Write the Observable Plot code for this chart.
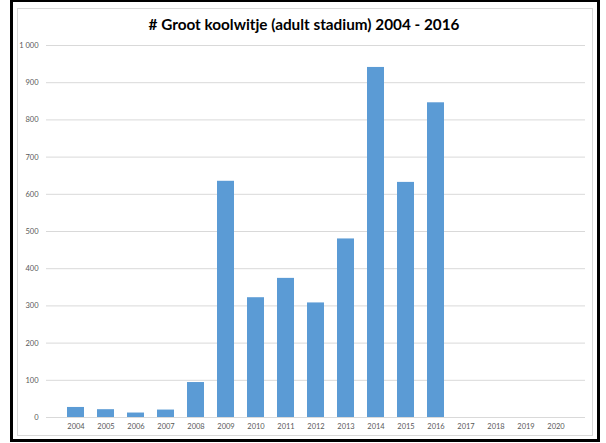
<!DOCTYPE html>
<html>
<head>
<meta charset="utf-8">
<script src="https://cdn.jsdelivr.net/npm/d3@7"></script>
<script src="https://cdn.jsdelivr.net/npm/@observablehq/plot@0.6"></script>
<style>
  html, body { margin: 0; padding: 0; background: #fff; }
  body { width: 606px; height: 443px; position: relative; overflow: hidden; font-family: Lato, "Open Sans", sans-serif; }
  #frame { position: absolute; left: 10px; top: 0; width: 590px; height: 442px; border: 3px solid #000; border-top-width: 2px; box-sizing: border-box; }
  #inner { position: absolute; left: 17px; top: 8px; width: 576px; height: 428px; border: 1px solid #d9d9d9; box-sizing: border-box; }
  #title { position: absolute; left: 0; width: 608px; top: 15px; text-align: center; font-weight: bold; font-size: 15.3px; color: #000; font-family: Lato, sans-serif; }
  #chart { position: absolute; left: 0; top: 35px; }
</style>
</head>
<body>
<div id="frame"></div>
<div id="inner"></div>
<div id="title"># Groot koolwitje (adult stadium) 2004 - 2016</div>
<div id="chart"></div>
<script>
const years = ["2004","2005","2006","2007","2008","2009","2010","2011","2012","2013","2014","2015","2016","2017","2018","2019","2020"];
const counts = [27, 21, 12, 20, 94, 635, 322, 374, 308, 480, 941, 632, 846, null, null, null, null];
const yTicks = [0, 100, 200, 300, 400, 500, 600, 700, 800, 900, 1000];

const data = years.map((y, i) => ({year: y, count: counts[i]}));
const fmt = d => d >= 1000 ? d3.format(",")(d).replace(/,/g, " ") : String(d);

const chart = Plot.plot({
  width: 606,
  height: 400,
  marginTop: 10,
  marginBottom: 18,
  marginLeft: 46,
  marginRight: 21,
  style: { fontFamily: "Lato, sans-serif", fontSize: "7.5px", color: "#595959", background: "transparent" },
  x: { domain: years, padding: 0.44, label: null, tickSize: 0, tickPadding: 6 },
  y: { domain: [0, 1000], label: null, ticks: yTicks, tickSize: 0, tickPadding: 8, tickFormat: fmt },
  marks: [
    Plot.gridY(yTicks, { stroke: "#d9d9d9", strokeOpacity: 1, strokeWidth: 1 }),
    Plot.barY(data.filter(d => d.count != null), { x: "year", y: "count", fill: "#5B9BD5" }),
    Plot.axisX({ tickSize: 0, tickPadding: 6, fill: "#595959" }),
    Plot.axisY({ ticks: yTicks, tickSize: 0, tickPadding: 8, tickFormat: fmt, fill: "#595959" })
  ]
});
document.getElementById("chart").appendChild(chart);
</script>
</body>
</html>
